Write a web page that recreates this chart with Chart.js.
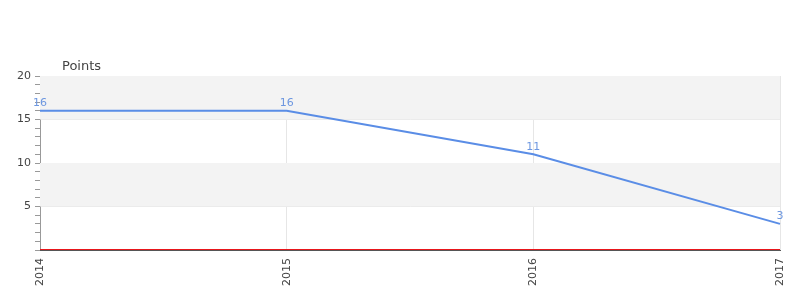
<!DOCTYPE html>
<html><head><meta charset="utf-8">
<script src="https://cdn.jsdelivr.net/npm/chart.js@4"></script>
<style>html,body{margin:0;padding:0;background:#fff}#wrap{width:800px;height:300px}</style>
</head><body><div id="wrap"><canvas id="c" width="800" height="300"></canvas></div>
<script>
const categories = ['2014', '2015', '2016', '2017'];
const pointsValues = [16, 16, 11, 3];
const baselineValues = [0, 0, 0, 0];
const yTickLabels = [5, 10, 15, 20];
const axisTitle = 'Points';

const FONT = "'DejaVu Sans', sans-serif";

const bandsPlugin = {
  id: 'bands',
  beforeDatasetsDraw(chart) {
    const {ctx, chartArea, scales} = chart;
    const y = scales.y;
    ctx.save();
    ctx.fillStyle = '#f3f3f3';
    [[15, 20], [5, 10]].forEach(([a, b]) => {
      const top = y.getPixelForValue(b), bot = y.getPixelForValue(a);
      ctx.fillRect(chartArea.left, top, chartArea.right - chartArea.left, bot - top);
    });
    ctx.restore();
  }
};

const labelPlugin = {
  id: 'vlabels',
  afterDatasetsDraw(chart) {
    const {ctx, chartArea} = chart;
    ctx.save();
    ctx.fillStyle = '#555';
    ctx.fillRect(chartArea.left, Math.round(chartArea.bottom), chartArea.right - chartArea.left, 1);
    const meta = chart.getDatasetMeta(0);
    ctx.font = '11px ' + FONT;
    ctx.fillStyle = '#6d97e0';
    ctx.textAlign = 'center';
    ctx.textBaseline = 'bottom';
    meta.data.forEach((pt, i) => {
      ctx.fillText(String(pointsValues[i]), pt.x, pt.y - 2);
    });
    ctx.font = '13px ' + FONT;
    ctx.fillStyle = '#444';
    ctx.textAlign = 'left';
    ctx.textBaseline = 'alphabetic';
    ctx.fillText(axisTitle, chartArea.left + 22, chartArea.top - 6);
    ctx.restore();
  }
};

new Chart(document.getElementById('c'), {
  type: 'line',
  data: {
    labels: categories,
    datasets: [
      {data: pointsValues, borderColor: '#5a8de6', borderWidth: 2, pointRadius: 0, tension: 0, clip: false, fill: false},
      {data: baselineValues, borderColor: '#e8161b', borderWidth: 2, pointRadius: 0, tension: 0, clip: false, fill: false}
    ]
  },
  options: {
    responsive: false,
    animation: false,
    devicePixelRatio: 1,
    layout: {padding: {left: 0, right: 20, top: 76, bottom: 0}},
    plugins: {legend: {display: false}, tooltip: {enabled: false}, title: {display: false}},
    scales: {
      x: {
        offset: false,
        afterFit: s => { s.height = 50; s.paddingLeft = 0; s.paddingRight = 0; },
        grid: {color: '#e6e6e6', drawTicks: false, lineWidth: 1},
        border: {color: '#555', width: 1},
        ticks: {maxRotation: 90, minRotation: 90, padding: 8, color: '#444', font: {family: FONT, size: 11}}
      },
      y: {
        min: 0, max: 20,
        afterFit: s => { s.width = 40; },
        afterBuildTicks: s => { s.ticks = []; for (let v = 0; v <= 20; v++) s.ticks.push({value: v}); },
        grid: {
          color: c => (c.tick && c.tick.value % 5 === 0 && c.tick.value !== 0) ? '#e3e3e3' : 'rgba(0,0,0,0)',
          tickColor: '#999',
          tickLength: 5,
          drawTicks: true
        },
        border: {color: '#999', width: 1},
        ticks: {
          autoSkip: false,
          padding: 4,
          color: '#444',
          font: {family: FONT, size: 11},
          callback: v => yTickLabels.includes(v) ? String(v) : ''
        }
      }
    }
  },
  plugins: [bandsPlugin, labelPlugin]
});
</script></body></html>
